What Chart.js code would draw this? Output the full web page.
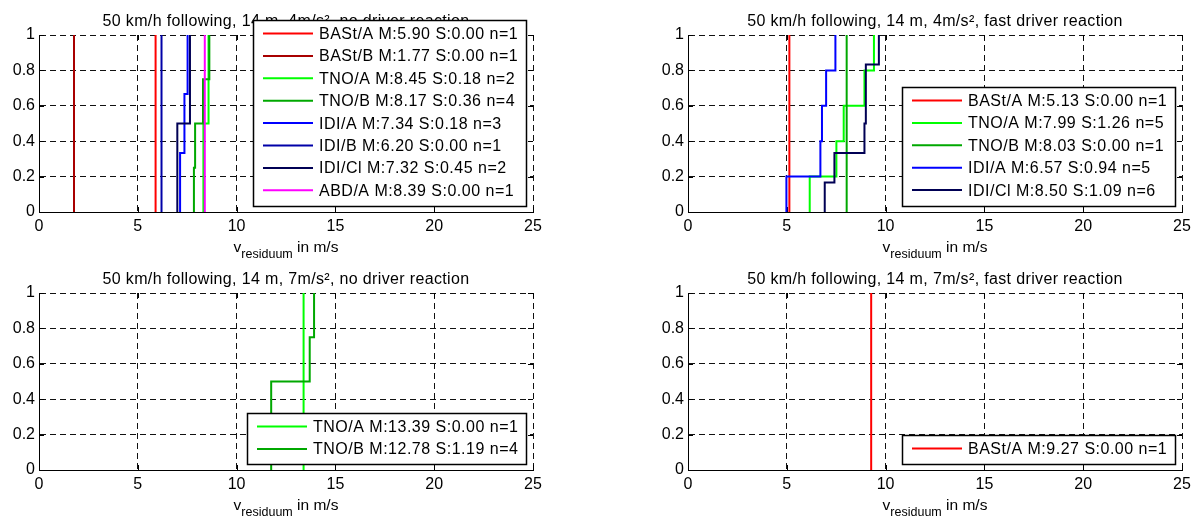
<!DOCTYPE html>
<html>
<head>
<meta charset="utf-8">
<script src="https://cdn.jsdelivr.net/npm/chart.js@4.4.1/dist/chart.umd.min.js"></script>
<style>
  html, body { margin: 0; padding: 0; background: #fff; }
  #wrap { position: relative; width: 1196px; height: 520px; overflow: hidden; }
  .panel { position: absolute; width: 547px; height: 260px; }
</style>
</head>
<body>
<div id="wrap">
  <div class="panel" style="left:0;top:0"><canvas id="c0" width="547" height="260"></canvas></div>
  <div class="panel" style="left:649px;top:0"><canvas id="c1" width="547" height="260"></canvas></div>
  <div class="panel" style="left:0;top:258px"><canvas id="c2" width="547" height="260"></canvas></div>
  <div class="panel" style="left:649px;top:258px"><canvas id="c3" width="547" height="260"></canvas></div>
</div>
<script>
// -------------------------------
// Data
// -------------------------------
const xTicks = [0, 5, 10, 15, 20, 25];
const yTicks = [0, 0.2, 0.4, 0.6, 0.8, 1];
const yTickLabels = ["0", "0.2", "0.4", "0.6", "0.8", "1"];

const titles = [
  "50 km/h following, 14 m, 4m/s², no driver reaction",
  "50 km/h following, 14 m, 4m/s², fast driver reaction",
  "50 km/h following, 14 m, 7m/s², no driver reaction",
  "50 km/h following, 14 m, 7m/s², fast driver reaction"
];

// panel 1: 4 m/s², no driver reaction
const labels1 = [
  "BASt/A M:5.90 S:0.00 n=1", "BASt/B M:1.77 S:0.00 n=1", "TNO/A M:8.45 S:0.18 n=2",
  "TNO/B M:8.17 S:0.36 n=4", "IDI/A M:7.34 S:0.18 n=3", "IDI/B M:6.20 S:0.00 n=1",
  "IDI/Cl M:7.32 S:0.45 n=2", "ABD/A M:8.39 S:0.00 n=1"
];
const values1 = [
  [5.90], [1.77], [8.32, 8.58], [7.84, 7.90, 8.30, 8.62],
  [7.14, 7.36, 7.52], [6.20], [7.00, 7.64], [8.39]
];

// panel 2: 4 m/s², fast driver reaction
const labels2 = [
  "BASt/A M:5.13 S:0.00 n=1", "TNO/A M:7.99 S:1.26 n=5", "TNO/B M:8.03 S:0.00 n=1",
  "IDI/A M:6.57 S:0.94 n=5", "IDI/Cl M:8.50 S:1.09 n=6"
];
const values2 = [
  [5.13], [6.16, 7.51, 7.88, 8.93, 9.41], [8.03],
  [4.98, 6.70, 6.78, 6.99, 7.46], [6.92, 7.41, 8.93, 9.00, 9.00, 9.66]
];

// panel 3: 7 m/s², no driver reaction
const labels3 = ["TNO/A M:13.39 S:0.00 n=1", "TNO/B M:12.78 S:1.19 n=4"];
const values3 = [[13.39], [11.75, 11.75, 13.70, 13.92]];

// panel 4: 7 m/s², fast driver reaction
const labels4 = ["BASt/A M:9.27 S:0.00 n=1"];
const values4 = [[9.27]];

const teamColors = {
  "BASt/A": "#ff0000", "BASt/B": "#a80000",
  "TNO/A": "#00ff00", "TNO/B": "#00a800",
  "IDI/A": "#0000ff", "IDI/B": "#0000a8", "IDI/Cl": "#000054",
  "ABD/A": "#ff00ff"
};

const FONT = '"Liberation Sans", Arial, Helvetica, sans-serif';

// -------------------------------
// empirical CDF points from sorted samples
// -------------------------------
function ecdf(vals) {
  const n = vals.length;
  const pts = [{ x: vals[0], y: 0 }];
  vals.forEach((v, i) => pts.push({ x: v, y: (i + 1) / n }));
  return pts;
}

// -------------------------------
// MATLAB look: inner ticks, title, xlabel, legend box
// -------------------------------
const matlabStyle = {
  id: "matlabStyle",
  beforeDatasetsDraw(chart) {
    const { ctx, chartArea: a, scales: { x, y } } = chart;
    ctx.save();
    ctx.strokeStyle = "#000";
    ctx.lineWidth = 1;
    ctx.beginPath();
    xTicks.forEach(v => {
      const px = Math.round(x.getPixelForValue(v)) + 0.5;
      ctx.moveTo(px, a.bottom); ctx.lineTo(px, a.bottom - 5);
      ctx.moveTo(px, a.top); ctx.lineTo(px, a.top + 5);
    });
    yTicks.forEach(v => {
      const py = Math.round(y.getPixelForValue(v)) + 0.5;
      ctx.moveTo(a.left, py); ctx.lineTo(a.left + 5, py);
      ctx.moveTo(a.right, py); ctx.lineTo(a.right - 5, py);
    });
    ctx.stroke();
    ctx.restore();
  },
  afterDraw(chart, args, opts) {
    const { ctx, chartArea: a } = chart;
    const cx = (a.left + a.right) / 2;
    ctx.save();
    ctx.fillStyle = "#000";
    ctx.textBaseline = "alphabetic";

    // title
    ctx.font = "16px " + FONT;
    ctx.letterSpacing = "0.35px";
    ctx.textAlign = "center";
    ctx.fillText(opts.title, cx, a.top - 9);
    ctx.letterSpacing = "0px";

    // x label: v_residuum in m/s
    ctx.textAlign = "left";
    const big = "15.5px " + FONT, small = "12.5px " + FONT;
    ctx.font = big;
    const w1 = ctx.measureText("v").width, w3 = ctx.measureText(" in m/s").width;
    ctx.font = small;
    const w2 = ctx.measureText("residuum").width;
    let lx = cx - (w1 + w2 + w3) / 2;
    const base = a.bottom + 40;
    ctx.font = big; ctx.fillText("v", lx, base); lx += w1;
    ctx.font = small; ctx.fillText("residuum", lx, base + 5.5); lx += w2;
    ctx.font = big; ctx.fillText(" in m/s", lx, base);

    // legend
    const ds = chart.data.datasets;
    ctx.font = "16px " + FONT;
    ctx.letterSpacing = "0.5px";
    const tw = Math.max(...ds.map(d => ctx.measureText(d.label).width));
    const rowH = 22.4;
    const w = Math.round(66 + tw + 8);
    const h = Math.round((ds.length - 1) * rowH + 29);
    const bx = Math.round(a.right - 7 - w);
    const by = Math.round(a.bottom - 6 - h);
    ctx.fillStyle = "#fff";
    ctx.fillRect(bx, by, w, h);
    ctx.strokeStyle = "#000";
    ctx.lineWidth = 1.5;
    ctx.strokeRect(bx + 0.5, by + 0.5, w, h);
    ctx.textBaseline = "middle";
    ds.forEach((d, i) => {
      const cy = by + 13.5 + i * rowH;
      ctx.strokeStyle = d.borderColor;
      ctx.lineWidth = 2;
      ctx.beginPath();
      ctx.moveTo(bx + 10, cy); ctx.lineTo(bx + 60, cy);
      ctx.stroke();
      ctx.fillStyle = "#000";
      ctx.fillText(d.label, bx + 66, cy + 1);
    });
    ctx.restore();
  }
};

function makePanel(id, title, labels, values) {
  const datasets = values.map((vals, i) => {
    const team = labels[i].split(" ")[0];
    return {
      label: labels[i],
      data: ecdf(vals),
      borderColor: teamColors[team],
      borderWidth: 2,
      pointRadius: 0,
      stepped: true,
      fill: false,
      order: values.length - i
    };
  });

  return new Chart(document.getElementById(id), {
    type: "line",
    data: { datasets },
    options: {
      responsive: false,
      animation: false,
      events: [],
      layout: { padding: { top: 35, right: 14, left: 0, bottom: 0 } },
      plugins: {
        legend: { display: false },
        tooltip: { enabled: false },
        matlabStyle: { title }
      },
      scales: {
        x: {
          type: "linear", min: 0, max: 25,
          afterBuildTicks: s => { s.ticks = xTicks.map(v => ({ value: v })); },
          afterFit: s => { s.height = 48; },
          grid: { color: "#111", lineWidth: 1, drawTicks: false },
          border: { color: "#000", width: 1, dash: [6, 4] },
          ticks: { color: "#000", font: { family: FONT, size: 16 }, padding: 5, maxRotation: 0 }
        },
        y: {
          type: "linear", min: 0, max: 1,
          afterBuildTicks: s => { s.ticks = yTicks.map(v => ({ value: v })); },
          afterFit: s => { s.width = 39; },
          grid: { color: "#111", lineWidth: 1, drawTicks: false },
          border: { color: "#000", width: 1, dash: [6, 4] },
          ticks: {
            color: "#000", font: { family: FONT, size: 16 }, padding: 4,
            callback: (v, i) => yTickLabels[i]
          }
        }
      }
    },
    plugins: [matlabStyle]
  });
}

makePanel("c0", titles[0], labels1, values1);
makePanel("c1", titles[1], labels2, values2);
makePanel("c2", titles[2], labels3, values3);
makePanel("c3", titles[3], labels4, values4);
</script>
</body>
</html>
